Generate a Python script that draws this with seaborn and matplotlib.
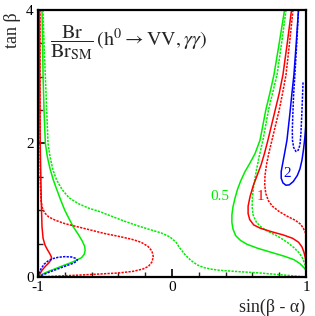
import matplotlib
matplotlib.use("Agg")
import matplotlib.pyplot as plt
import seaborn as sns
import pandas as pd
from matplotlib.ticker import MultipleLocator

sns.set_theme(style="ticks")
plt.rcParams['font.family'] = ['Liberation Serif', 'DejaVu Serif']
plt.rcParams['mathtext.fontset'] = 'stix'

# contour lines: x = sin(beta - alpha), y = tan(beta)
# solid = h -> VV, dashed = h -> gamma gamma ; levels 0.5, 1, 2

vv05_left_x = [-0.970, -0.966, -0.962, -0.955, -0.945, -0.930, -0.910, -0.885, -0.858, -0.830, -0.800, -0.770,
               -0.739, -0.700, -0.670, -0.652, -0.648, -0.655, -0.675, -0.709, -0.760, -0.813, -0.870, -0.933, -0.970, -1.0]
vv05_left_y = [4.0, 3.5, 3.0, 2.5, 2.0, 1.80, 1.62, 1.45, 1.30, 1.15, 1.0, 0.88,
               0.76, 0.64, 0.54, 0.46, 0.40, 0.34, 0.29, 0.255, 0.21, 0.17, 0.125, 0.075, 0.04, 0.0]

vv05_right_x = [0.840, 0.800, 0.761, 0.730, 0.700, 0.657, 0.620, 0.580, 0.545, 0.515, 0.490, 0.470, 0.455,
                0.447, 0.447, 0.455, 0.475, 0.510, 0.560, 0.640, 0.740, 0.840, 0.910, 0.955, 0.985, 1.0]
vv05_right_y = [4.0, 3.5, 3.03, 2.75, 2.5, 2.05, 1.85, 1.70, 1.58, 1.45, 1.32, 1.18, 1.05,
                0.93, 0.82, 0.72, 0.62, 0.55, 0.49, 0.43, 0.37, 0.31, 0.26, 0.20, 0.14, 0.10]

aa05_left_x = [-0.963, -0.955, -0.945, -0.935, -0.925, -0.910, -0.888, -0.860, -0.820, -0.770, -0.700, -0.620,
               -0.540, -0.450, -0.360, -0.260, -0.164, -0.080, -0.015, 0.030, 0.060, 0.100, 0.140, 0.190,
               0.240, 0.300, 0.358, 0.500, 0.657, 0.800, 0.903, 1.0]
aa05_left_y = [4.0, 3.5, 3.0, 2.5, 2.0, 1.80, 1.60, 1.45, 1.31, 1.19, 1.10, 1.03,
               0.98, 0.91, 0.84, 0.77, 0.71, 0.66, 0.60, 0.52, 0.43, 0.33, 0.25, 0.18,
               0.14, 0.115, 0.10, 0.08, 0.06, 0.035, 0.018, 0.0]

aa05_right_x = [0.851, 0.818, 0.784, 0.750, 0.720, 0.679, 0.650, 0.630, 0.612, 0.600, 0.598, 0.605, 0.630,
                0.670, 0.720, 0.790, 0.860, 0.910, 0.950, 0.975, 0.992, 1.0]
aa05_right_y = [4.0, 3.5, 3.03, 2.75, 2.5, 2.05, 1.80, 1.60, 1.40, 1.20, 1.05, 0.93, 0.82,
                0.74, 0.68, 0.61, 0.52, 0.44, 0.36, 0.28, 0.19, 0.12]

vv1_left_x = [-0.989, -0.987, -0.985, -0.980, -0.975, -0.970, -0.962, -0.948, -0.930, -0.912, -0.900, -0.902,
              -0.920, -0.945, -0.970, -0.988, -1.0]
vv1_left_y = [4.0, 3.0, 2.2, 1.6, 1.1, 0.75, 0.58, 0.48, 0.41, 0.35, 0.30, 0.26,
              0.21, 0.16, 0.10, 0.04, 0.0]

vv1_right_x = [0.892, 0.860, 0.828, 0.800, 0.770, 0.716, 0.690, 0.665, 0.635, 0.605, 0.582, 0.568, 0.568,
               0.580, 0.610, 0.660, 0.740, 0.830, 0.900, 0.945, 0.970, 0.985, 0.995, 1.0]
vv1_right_y = [4.0, 3.5, 3.03, 2.75, 2.5, 2.05, 1.85, 1.68, 1.52, 1.36, 1.20, 1.06, 0.95,
               0.86, 0.78, 0.73, 0.68, 0.63, 0.58, 0.52, 0.45, 0.37, 0.29, 0.22]

aa1_left_x = [-0.985, -0.985, -0.984, -0.982, -0.978, -0.968, -0.950, -0.920, -0.870, -0.800, -0.700, -0.600,
              -0.500, -0.400, -0.300, -0.230, -0.180, -0.150, -0.140, -0.148, -0.175, -0.216, -0.290, -0.400,
              -0.540, -0.700, -0.840, -1.0]
aa1_left_y = [4.0, 3.0, 2.0, 1.4, 1.15, 1.04, 0.96, 0.90, 0.85, 0.80, 0.75, 0.70,
              0.65, 0.61, 0.565, 0.52, 0.46, 0.39, 0.31, 0.23, 0.16, 0.12, 0.085, 0.06,
              0.045, 0.028, 0.015, 0.0]

aa1_right_x = [0.903, 0.877, 0.851, 0.825, 0.800, 0.746, 0.722, 0.705, 0.694, 0.692, 0.700, 0.720, 0.750,
               0.800, 0.860, 0.920, 0.960, 0.980, 0.992, 1.0]
aa1_right_y = [4.0, 3.5, 3.03, 2.75, 2.5, 2.05, 1.85, 1.68, 1.52, 1.38, 1.25, 1.14, 1.06,
               0.98, 0.91, 0.85, 0.79, 0.73, 0.68, 0.64]

vv2_right_x = [0.944, 0.927, 0.910, 0.895, 0.880, 0.858, 0.840, 0.826, 0.815, 0.815, 0.828, 0.850, 0.875,
               0.905, 0.935, 0.955, 0.970, 0.982, 0.992, 1.0]
vv2_right_y = [4.0, 3.5, 3.03, 2.75, 2.45, 2.05, 1.85, 1.70, 1.58, 1.48, 1.41, 1.375, 1.38,
               1.43, 1.52, 1.62, 1.75, 1.92, 2.1, 2.3]

aa2_left_x = [-1.0, -0.992, -0.978, -0.955, -0.925, -0.890, -0.850, -0.800, -0.750, -0.720, -0.706, -0.715,
              -0.745, -0.800, -0.860, -0.920, -0.965, -1.0]
aa2_left_y = [0.0, 0.05, 0.12, 0.19, 0.24, 0.275, 0.295, 0.305, 0.30, 0.28, 0.255, 0.23,
              0.20, 0.16, 0.115, 0.07, 0.03, 0.0]

aa2_right_x = [0.944, 0.931, 0.918, 0.908, 0.902, 0.898, 0.899, 0.908, 0.925, 0.942, 0.955, 0.962, 0.968,
               0.973, 0.978]
aa2_right_y = [4.0, 3.5, 3.06, 2.75, 2.45, 2.2, 2.05, 1.94, 1.88, 1.90, 1.98, 2.15, 2.4,
               2.65, 2.92]

green = '#00ee00'
red = '#ff0000'
blue = '#0000ff'
solid = '-'
dashed = (0, (1.5, 0.8))

curves = [
    (vv05_left_x, vv05_left_y, green, solid),
    (vv05_right_x, vv05_right_y, green, solid),
    (aa05_left_x, aa05_left_y, green, dashed),
    (aa05_right_x, aa05_right_y, green, dashed),
    (vv1_left_x, vv1_left_y, red, solid),
    (vv1_right_x, vv1_right_y, red, solid),
    (aa1_left_x, aa1_left_y, red, dashed),
    (aa1_right_x, aa1_right_y, red, dashed),
    (vv2_right_x, vv2_right_y, blue, solid),
    (aa2_left_x, aa2_left_y, blue, dashed),
    (aa2_right_x, aa2_right_y, blue, dashed),
]

fig = plt.figure(figsize=(3.15, 3.16), dpi=100)
ax = fig.add_axes([0.1206, 0.1234, 0.8508, 0.845])

for cx, cy, col, ls in curves:
    df = pd.DataFrame({'x': cx, 'y': cy})
    sns.lineplot(data=df, x='x', y='y', sort=False, estimator=None,
                 color=col, linestyle=ls, linewidth=1.1, ax=ax)

ax.set_xlim(-1, 1)
ax.set_ylim(0, 4)
ax.xaxis.set_minor_locator(MultipleLocator(0.2))
ax.yaxis.set_minor_locator(MultipleLocator(0.5))
ax.set_xticks([-1, 0, 1])
ax.set_xticklabels(['-1', '0', '1'])
ax.set_yticks([0, 2, 4])
ax.set_yticklabels(['0', '2', '4'])
ax.tick_params(which='major', direction='in', length=6, width=1.2, labelsize=11,
               top=False, right=False, pad=3, colors='black')
ax.tick_params(which='minor', direction='in', length=3.5, width=1.0,
               top=False, right=False, bottom=True, left=True)
for s in ax.spines.values():
    s.set_linewidth(1.6)
    s.set_color('black')

ax.set_xlabel('')
ax.set_ylabel('')
fig.text(0.97, 0.0, 'sin(β - α)', ha='right', va='bottom', fontsize=13)
fig.text(0.04, 0.905, 'tan β', ha='center', va='center', rotation=90, fontsize=13)

ax.text(0.045, 0.88, r'$\dfrac{\mathrm{Br}}{\mathrm{Br}_{\mathrm{SM}}}\,(\mathrm{h}^0 \rightarrow \mathrm{VV},\gamma\gamma)$',
        transform=ax.transAxes, ha='left', va='center', fontsize=14.5)

ax.text(0.358, 1.21, '0.5', color=green, ha='center', va='center', fontsize=11)
ax.text(0.664, 1.21, '1', color=red, ha='center', va='center', fontsize=11)
ax.text(0.862, 1.55, '2', color=blue, ha='center', va='center', fontsize=11)

fig.savefig('out.png', dpi=100)
